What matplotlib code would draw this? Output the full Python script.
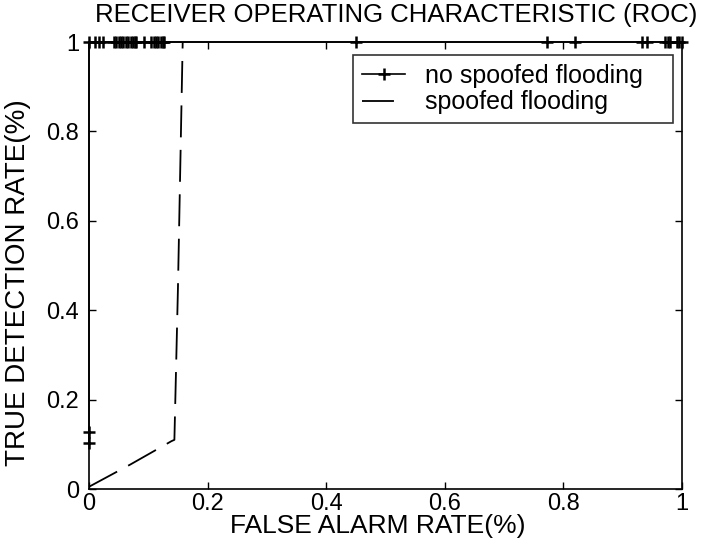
import matplotlib
matplotlib.use('Agg')
import matplotlib.pyplot as plt

plt.rcParams['font.family'] = ['Liberation Sans', 'DejaVu Sans']
plt.rcParams['lines.scale_dashes'] = False

# no spoofed flooding (ROC points)
nsf_x = [0, 0, 0, 0.010, 0.017, 0.024,
         0.042, 0.046, 0.050, 0.054, 0.058, 0.062, 0.066, 0.070, 0.074, 0.078, 0.080,
         0.092, 0.105, 0.109, 0.113, 0.117, 0.121, 0.125, 0.127,
         0.45, 0.772, 0.819, 0.932, 0.941, 0.971, 0.976, 0.980, 0.991, 0.995, 1.0]
nsf_y = [0.104, 0.127] + [1.0] * (len(nsf_x) - 2)

# spoofed flooding
sf_x = [0.0, 0.07, 0.139, 0.144, 0.150, 0.158]
sf_y = [0.005, 0.055, 0.107, 0.11, 0.45, 1.0]

xticks = [0, 0.2, 0.4, 0.6, 0.8, 1]
xticklabels = ['0', '0.2', '0.4', '0.6', '0.8', '1']
yticks = [0, 0.2, 0.4, 0.6, 0.8, 1]
yticklabels = ['0', '0.2', '0.4', '0.6', '0.8', '1']

fig = plt.figure(figsize=(7.08, 5.44), dpi=100)
ax = fig.add_axes([89/708, 1 - 489/544, (682-89)/708, (489-42)/544])

ax.plot(nsf_x, nsf_y, color='black', linewidth=1.2, marker='+', markersize=9,
        markeredgewidth=1.8, label='no spoofed flooding   ', clip_on=False)
ax.plot(sf_x, sf_y, color='black', linewidth=1.3, dashes=(23, 9),
        label='spoofed flooding', clip_on=False)

ax.set_xlim(0, 1)
ax.set_ylim(0, 1)
ax.set_xticks(xticks)
ax.set_xticklabels(xticklabels)
ax.set_yticks(yticks)
ax.set_yticklabels(yticklabels)
ax.tick_params(direction='in', length=5, width=1, top=True, right=True,
               labelsize=17)
ax.tick_params(axis='y', pad=7)
ax.tick_params(axis='x', pad=3)
for s in ax.spines.values():
    s.set_linewidth(1.2)

fig.text(396/708, 1 - 15/544, 'RECEIVER OPERATING CHARACTERISTIC (ROC)',
         fontsize=18.5, ha='center', va='center')
ax.set_xlabel('FALSE ALARM RATE(%)', fontsize=19)
ax.xaxis.set_label_coords((378-89)/593, -0.056)
ax.set_ylabel('TRUE DETECTION RATE(%)', fontsize=20)
ax.yaxis.set_label_coords(-0.097, 0.461)

leg = ax.legend(loc='upper right', bbox_to_anchor=((673-89)/593, (489-55)/447),
                borderaxespad=0, fontsize=18,
                frameon=True, fancybox=False, edgecolor='black', numpoints=1,
                handlelength=1.74, borderpad=0.35, labelspacing=0.1,
                handletextpad=0.8)
leg.get_frame().set_linewidth(1.2)

fig.savefig('out.png', dpi=100)
